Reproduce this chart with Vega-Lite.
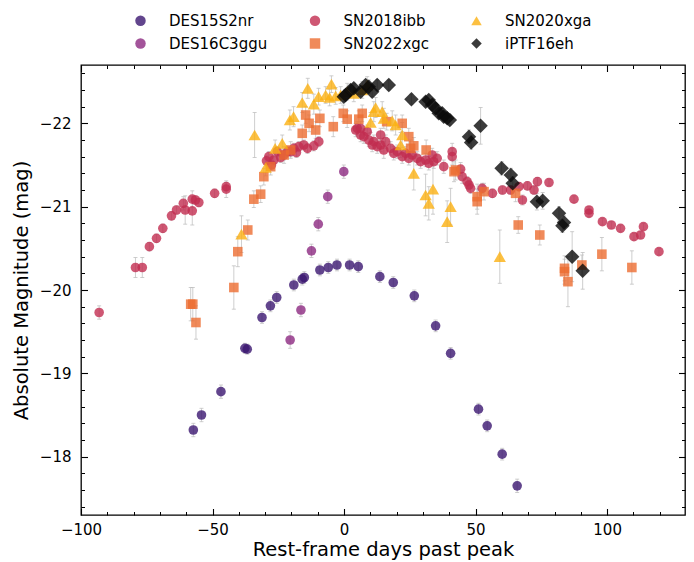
{
  "$schema": "https://vega.github.io/schema/vega-lite/v6.json",
  "width": 604,
  "height": 450,
  "autosize": {"type": "none"},
  "padding": {"left": 81, "top": 65, "right": 9, "bottom": 47},
  "config": {
    "font": "DejaVu Sans",
    "view": {"stroke": "#000000", "strokeWidth": 1.3},
    "axis": {"grid": false, "domain": false, "labelColor": "#000", "titleColor": "#000", "tickColor": "#000", "titleFontWeight": "normal", "labelFontSize": 15, "titleFontSize": 19.5}
  },
  "data": {"values": [
    {"s":"DES15S2nr","d":-57.3,"m":-18.32,"e":0.08},
    {"s":"DES15S2nr","d":-54.2,"m":-18.50,"e":0.08},
    {"s":"DES15S2nr","d":-46.8,"m":-18.78,"e":0.08},
    {"s":"DES15S2nr","d":-37.7,"m":-19.30,"e":0.06},
    {"s":"DES15S2nr","d":-36.8,"m":-19.29,"e":0.06},
    {"s":"DES15S2nr","d":-31.2,"m":-19.67,"e":0.07},
    {"s":"DES15S2nr","d":-28.0,"m":-19.81,"e":0.07},
    {"s":"DES15S2nr","d":-25.6,"m":-19.91,"e":0.07},
    {"s":"DES15S2nr","d":-19.1,"m":-20.06,"e":0.07},
    {"s":"DES15S2nr","d":-15.9,"m":-20.13,"e":0.07},
    {"s":"DES15S2nr","d":-15.1,"m":-20.15,"e":0.07},
    {"s":"DES15S2nr","d":-9.2,"m":-20.24,"e":0.07},
    {"s":"DES15S2nr","d":-6.0,"m":-20.27,"e":0.07},
    {"s":"DES15S2nr","d":-2.7,"m":-20.30,"e":0.07},
    {"s":"DES15S2nr","d":2.1,"m":-20.30,"e":0.07},
    {"s":"DES15S2nr","d":5.4,"m":-20.28,"e":0.07},
    {"s":"DES15S2nr","d":13.6,"m":-20.16,"e":0.07},
    {"s":"DES15S2nr","d":18.7,"m":-20.09,"e":0.07},
    {"s":"DES15S2nr","d":26.7,"m":-19.93,"e":0.07},
    {"s":"DES15S2nr","d":34.8,"m":-19.57,"e":0.07},
    {"s":"DES15S2nr","d":40.5,"m":-19.24,"e":0.07},
    {"s":"DES15S2nr","d":51.1,"m":-18.57,"e":0.07},
    {"s":"DES15S2nr","d":54.4,"m":-18.37,"e":0.07},
    {"s":"DES15S2nr","d":60.1,"m":-18.03,"e":0.07},
    {"s":"DES15S2nr","d":65.8,"m":-17.65,"e":0.08},
    {"s":"DES16C3ggu","d":-20.5,"m":-19.40,"e":0.1},
    {"s":"DES16C3ggu","d":-16.4,"m":-19.76,"e":0.08},
    {"s":"DES16C3ggu","d":-12.4,"m":-20.47,"e":0.08},
    {"s":"DES16C3ggu","d":-9.8,"m":-20.79,"e":0.08},
    {"s":"DES16C3ggu","d":-6.2,"m":-21.12,"e":0.08},
    {"s":"DES16C3ggu","d":-0.1,"m":-21.42,"e":0.08},
    {"s":"SN2018ibb","d":-93.1,"m":-19.73,"e":0.08},
    {"s":"SN2018ibb","d":-79.3,"m":-20.27,"e":0.12},
    {"s":"SN2018ibb","d":-76.7,"m":-20.27,"e":0.12},
    {"s":"SN2018ibb","d":-74.0,"m":-20.52,"e":0.05},
    {"s":"SN2018ibb","d":-71.3,"m":-20.62,"e":0.05},
    {"s":"SN2018ibb","d":-68.9,"m":-20.74,"e":0.05},
    {"s":"SN2018ibb","d":-65.6,"m":-20.89,"e":0.05},
    {"s":"SN2018ibb","d":-63.7,"m":-20.96,"e":0.05},
    {"s":"SN2018ibb","d":-61.1,"m":-21.04,"e":0.08},
    {"s":"SN2018ibb","d":-60.4,"m":-20.96,"e":0.17},
    {"s":"SN2018ibb","d":-57.7,"m":-20.95,"e":0.17},
    {"s":"SN2018ibb","d":-57.7,"m":-21.09,"e":0.1},
    {"s":"SN2018ibb","d":-56.5,"m":-21.08,"e":0.05},
    {"s":"SN2018ibb","d":-55.2,"m":-21.05,"e":0.05},
    {"s":"SN2018ibb","d":-49.2,"m":-21.16,"e":0.05},
    {"s":"SN2018ibb","d":-44.8,"m":-21.21,"e":0.1},
    {"s":"SN2018ibb","d":-44.8,"m":-21.24,"e":0.05},
    {"s":"SN2018ibb","d":-29.5,"m":-21.55,"e":0.06},
    {"s":"SN2018ibb","d":-28.6,"m":-21.60,"e":0.06},
    {"s":"SN2018ibb","d":-27.6,"m":-21.50,"e":0.06},
    {"s":"SN2018ibb","d":-26.7,"m":-21.56,"e":0.06},
    {"s":"SN2018ibb","d":-25.4,"m":-21.66,"e":0.06},
    {"s":"SN2018ibb","d":-24.1,"m":-21.59,"e":0.06},
    {"s":"SN2018ibb","d":-22.9,"m":-21.62,"e":0.06},
    {"s":"SN2018ibb","d":-21.5,"m":-21.66,"e":0.06},
    {"s":"SN2018ibb","d":-20.3,"m":-21.66,"e":0.06},
    {"s":"SN2018ibb","d":-19.1,"m":-21.70,"e":0.06},
    {"s":"SN2018ibb","d":-18.1,"m":-21.65,"e":0.06},
    {"s":"SN2018ibb","d":-17.2,"m":-21.72,"e":0.06},
    {"s":"SN2018ibb","d":-15.3,"m":-21.74,"e":0.06},
    {"s":"SN2018ibb","d":-13.9,"m":-21.70,"e":0.06},
    {"s":"SN2018ibb","d":-11.5,"m":-21.73,"e":0.06},
    {"s":"SN2018ibb","d":-9.6,"m":-21.78,"e":0.06},
    {"s":"SN2018ibb","d":4.4,"m":-21.92,"e":0.08},
    {"s":"SN2018ibb","d":5.0,"m":-21.94,"e":0.08},
    {"s":"SN2018ibb","d":6.3,"m":-21.94,"e":0.08},
    {"s":"SN2018ibb","d":6.3,"m":-21.86,"e":0.08},
    {"s":"SN2018ibb","d":7.5,"m":-21.84,"e":0.08},
    {"s":"SN2018ibb","d":8.8,"m":-21.90,"e":0.08},
    {"s":"SN2018ibb","d":9.4,"m":-21.80,"e":0.08},
    {"s":"SN2018ibb","d":10.7,"m":-21.74,"e":0.08},
    {"s":"SN2018ibb","d":11.3,"m":-21.78,"e":0.08},
    {"s":"SN2018ibb","d":12.6,"m":-21.72,"e":0.08},
    {"s":"SN2018ibb","d":13.9,"m":-21.86,"e":0.08},
    {"s":"SN2018ibb","d":13.9,"m":-21.74,"e":0.08},
    {"s":"SN2018ibb","d":15.1,"m":-21.68,"e":0.1},
    {"s":"SN2018ibb","d":15.8,"m":-21.78,"e":0.08},
    {"s":"SN2018ibb","d":17.7,"m":-21.70,"e":0.08},
    {"s":"SN2018ibb","d":18.9,"m":-21.64,"e":0.08},
    {"s":"SN2018ibb","d":20.2,"m":-21.66,"e":0.08},
    {"s":"SN2018ibb","d":22.1,"m":-21.60,"e":0.08},
    {"s":"SN2018ibb","d":23.4,"m":-21.64,"e":0.08},
    {"s":"SN2018ibb","d":24.6,"m":-21.58,"e":0.08},
    {"s":"SN2018ibb","d":25.9,"m":-21.62,"e":0.08},
    {"s":"SN2018ibb","d":27.8,"m":-21.58,"e":0.08},
    {"s":"SN2018ibb","d":29.1,"m":-21.54,"e":0.08},
    {"s":"SN2018ibb","d":31.0,"m":-21.56,"e":0.08},
    {"s":"SN2018ibb","d":32.2,"m":-21.52,"e":0.08},
    {"s":"SN2018ibb","d":33.5,"m":-21.62,"e":0.08},
    {"s":"SN2018ibb","d":34.1,"m":-21.54,"e":0.08},
    {"s":"SN2018ibb","d":35.4,"m":-21.58,"e":0.08},
    {"s":"SN2018ibb","d":37.9,"m":-21.48,"e":0.08},
    {"s":"SN2018ibb","d":41.1,"m":-21.66,"e":0.1},
    {"s":"SN2018ibb","d":41.1,"m":-21.60,"e":0.1},
    {"s":"SN2018ibb","d":44.3,"m":-21.45,"e":0.08},
    {"s":"SN2018ibb","d":44.9,"m":-21.36,"e":0.08},
    {"s":"SN2018ibb","d":46.8,"m":-21.30,"e":0.06},
    {"s":"SN2018ibb","d":47.5,"m":-21.26,"e":0.06},
    {"s":"SN2018ibb","d":48.1,"m":-21.22,"e":0.06},
    {"s":"SN2018ibb","d":52.5,"m":-21.22,"e":0.06},
    {"s":"SN2018ibb","d":56.4,"m":-21.16,"e":0.05},
    {"s":"SN2018ibb","d":60.2,"m":-21.20,"e":0.05},
    {"s":"SN2018ibb","d":63.3,"m":-21.20,"e":0.05},
    {"s":"SN2018ibb","d":66.5,"m":-21.24,"e":0.05},
    {"s":"SN2018ibb","d":67.8,"m":-21.08,"e":0.06},
    {"s":"SN2018ibb","d":69.7,"m":-21.25,"e":0.05},
    {"s":"SN2018ibb","d":72.2,"m":-21.20,"e":0.05},
    {"s":"SN2018ibb","d":73.5,"m":-21.30,"e":0.05},
    {"s":"SN2018ibb","d":77.9,"m":-21.29,"e":0.04},
    {"s":"SN2018ibb","d":87.4,"m":-21.09,"e":0.04},
    {"s":"SN2018ibb","d":93.1,"m":-20.96,"e":0.04},
    {"s":"SN2018ibb","d":93.1,"m":-20.92,"e":0.04},
    {"s":"SN2018ibb","d":98.2,"m":-20.82,"e":0.04},
    {"s":"SN2018ibb","d":101.6,"m":-20.78,"e":0.04},
    {"s":"SN2018ibb","d":105.1,"m":-20.74,"e":0.04},
    {"s":"SN2018ibb","d":110.2,"m":-20.64,"e":0.04},
    {"s":"SN2018ibb","d":112.7,"m":-20.66,"e":0.04},
    {"s":"SN2018ibb","d":113.8,"m":-20.76,"e":0.04},
    {"s":"SN2018ibb","d":119.7,"m":-20.46,"e":0.04},
    {"s":"SN2022xgc","d":-58.3,"m":-19.83,"e":0.2},
    {"s":"SN2022xgc","d":-57.5,"m":-19.83,"e":0.2},
    {"s":"SN2022xgc","d":-56.3,"m":-19.61,"e":0.2},
    {"s":"SN2022xgc","d":-41.9,"m":-20.03,"e":0.26},
    {"s":"SN2022xgc","d":-40.4,"m":-20.46,"e":0.18},
    {"s":"SN2022xgc","d":-36.6,"m":-20.72,"e":0.12},
    {"s":"SN2022xgc","d":-34.3,"m":-21.09,"e":0.1},
    {"s":"SN2022xgc","d":-31.7,"m":-21.15,"e":0.1},
    {"s":"SN2022xgc","d":-30.5,"m":-21.36,"e":0.1},
    {"s":"SN2022xgc","d":-27.9,"m":-21.48,"e":0.1},
    {"s":"SN2022xgc","d":-22.8,"m":-21.62,"e":0.1},
    {"s":"SN2022xgc","d":-20.3,"m":-21.68,"e":0.1},
    {"s":"SN2022xgc","d":-15.9,"m":-21.88,"e":0.1},
    {"s":"SN2022xgc","d":-14.6,"m":-22.10,"e":0.1},
    {"s":"SN2022xgc","d":-13.3,"m":-22.00,"e":0.1},
    {"s":"SN2022xgc","d":-10.8,"m":-21.92,"e":0.1},
    {"s":"SN2022xgc","d":-9.2,"m":-22.06,"e":0.1},
    {"s":"SN2022xgc","d":-4.1,"m":-21.96,"e":0.12},
    {"s":"SN2022xgc","d":-0.3,"m":-22.12,"e":0.1},
    {"s":"SN2022xgc","d":1.2,"m":-22.05,"e":0.1},
    {"s":"SN2022xgc","d":5.6,"m":-22.05,"e":0.1},
    {"s":"SN2022xgc","d":6.9,"m":-22.12,"e":0.1},
    {"s":"SN2022xgc","d":16.2,"m":-22.02,"e":0.1},
    {"s":"SN2022xgc","d":22.1,"m":-22.00,"e":0.1},
    {"s":"SN2022xgc","d":24.6,"m":-21.84,"e":0.1},
    {"s":"SN2022xgc","d":25.3,"m":-21.70,"e":0.1},
    {"s":"SN2022xgc","d":26.5,"m":-21.73,"e":0.1},
    {"s":"SN2022xgc","d":31.2,"m":-21.68,"e":0.12},
    {"s":"SN2022xgc","d":41.8,"m":-21.42,"e":0.12},
    {"s":"SN2022xgc","d":42.4,"m":-21.44,"e":0.12},
    {"s":"SN2022xgc","d":50.6,"m":-21.12,"e":0.15},
    {"s":"SN2022xgc","d":50.6,"m":-21.06,"e":0.15},
    {"s":"SN2022xgc","d":53.2,"m":-21.18,"e":0.1},
    {"s":"SN2022xgc","d":65.2,"m":-21.16,"e":0.1},
    {"s":"SN2022xgc","d":66.2,"m":-20.78,"e":0.1},
    {"s":"SN2022xgc","d":74.4,"m":-20.66,"e":0.12},
    {"s":"SN2022xgc","d":83.8,"m":-20.26,"e":0.15},
    {"s":"SN2022xgc","d":83.8,"m":-20.22,"e":0.15},
    {"s":"SN2022xgc","d":85.1,"m":-20.10,"e":0.3},
    {"s":"SN2022xgc","d":90.4,"m":-20.30,"e":0.12},
    {"s":"SN2022xgc","d":98.0,"m":-20.43,"e":0.2},
    {"s":"SN2022xgc","d":109.4,"m":-20.27,"e":0.2},
    {"s":"SN2020xga","d":-39.0,"m":-20.67,"e":0.22},
    {"s":"SN2020xga","d":-34.0,"m":-21.86,"e":0.27},
    {"s":"SN2020xga","d":-29.8,"m":-21.47,"e":0.1},
    {"s":"SN2020xga","d":-26.2,"m":-21.70,"e":0.1},
    {"s":"SN2020xga","d":-23.5,"m":-21.76,"e":0.1},
    {"s":"SN2020xga","d":-20.6,"m":-22.04,"e":0.12},
    {"s":"SN2020xga","d":-19.2,"m":-22.08,"e":0.12},
    {"s":"SN2020xga","d":-15.9,"m":-22.25,"e":0.12},
    {"s":"SN2020xga","d":-13.8,"m":-22.42,"e":0.12},
    {"s":"SN2020xga","d":-11.5,"m":-22.23,"e":0.12},
    {"s":"SN2020xga","d":-9.7,"m":-22.32,"e":0.1},
    {"s":"SN2020xga","d":-7.0,"m":-22.34,"e":0.1},
    {"s":"SN2020xga","d":-5.5,"m":-22.31,"e":0.1},
    {"s":"SN2020xga","d":-4.8,"m":-22.47,"e":0.1},
    {"s":"SN2020xga","d":-3.2,"m":-22.33,"e":0.1},
    {"s":"SN2020xga","d":-1.3,"m":-22.34,"e":0.1},
    {"s":"SN2020xga","d":1.2,"m":-22.38,"e":0.1},
    {"s":"SN2020xga","d":3.7,"m":-22.36,"e":0.1},
    {"s":"SN2020xga","d":6.9,"m":-22.40,"e":0.1},
    {"s":"SN2020xga","d":8.8,"m":-22.46,"e":0.1},
    {"s":"SN2020xga","d":10.1,"m":-22.01,"e":0.12},
    {"s":"SN2020xga","d":11.3,"m":-22.14,"e":0.12},
    {"s":"SN2020xga","d":12.0,"m":-22.19,"e":0.12},
    {"s":"SN2020xga","d":14.5,"m":-22.14,"e":0.12},
    {"s":"SN2020xga","d":15.1,"m":-22.06,"e":0.12},
    {"s":"SN2020xga","d":18.3,"m":-22.03,"e":0.12},
    {"s":"SN2020xga","d":19.6,"m":-21.98,"e":0.12},
    {"s":"SN2020xga","d":21.5,"m":-21.74,"e":0.15},
    {"s":"SN2020xga","d":22.1,"m":-21.86,"e":0.15},
    {"s":"SN2020xga","d":26.5,"m":-21.40,"e":0.2},
    {"s":"SN2020xga","d":31.0,"m":-21.14,"e":0.25},
    {"s":"SN2020xga","d":32.2,"m":-21.04,"e":0.2},
    {"s":"SN2020xga","d":33.8,"m":-21.21,"e":0.3},
    {"s":"SN2020xga","d":39.2,"m":-20.82,"e":0.25},
    {"s":"SN2020xga","d":40.5,"m":-21.00,"e":0.22},
    {"s":"SN2020xga","d":59.2,"m":-20.40,"e":0.32},
    {"s":"iPTF16eh","d":-0.1,"m":-22.32,"e":0.06},
    {"s":"iPTF16eh","d":0.6,"m":-22.34,"e":0.06},
    {"s":"iPTF16eh","d":2.5,"m":-22.40,"e":0.06},
    {"s":"iPTF16eh","d":3.7,"m":-22.42,"e":0.06},
    {"s":"iPTF16eh","d":6.3,"m":-22.38,"e":0.06},
    {"s":"iPTF16eh","d":8.2,"m":-22.46,"e":0.06},
    {"s":"iPTF16eh","d":9.4,"m":-22.44,"e":0.08},
    {"s":"iPTF16eh","d":10.7,"m":-22.38,"e":0.06},
    {"s":"iPTF16eh","d":12.6,"m":-22.46,"e":0.06},
    {"s":"iPTF16eh","d":17.0,"m":-22.46,"e":0.06},
    {"s":"iPTF16eh","d":25.6,"m":-22.29,"e":0.06},
    {"s":"iPTF16eh","d":31.0,"m":-22.26,"e":0.06},
    {"s":"iPTF16eh","d":32.2,"m":-22.28,"e":0.06},
    {"s":"iPTF16eh","d":33.5,"m":-22.22,"e":0.06},
    {"s":"iPTF16eh","d":34.8,"m":-22.18,"e":0.06},
    {"s":"iPTF16eh","d":36.0,"m":-22.12,"e":0.06},
    {"s":"iPTF16eh","d":37.3,"m":-22.12,"e":0.06},
    {"s":"iPTF16eh","d":37.9,"m":-22.08,"e":0.06},
    {"s":"iPTF16eh","d":39.2,"m":-22.06,"e":0.06},
    {"s":"iPTF16eh","d":40.2,"m":-22.04,"e":0.06},
    {"s":"iPTF16eh","d":47.5,"m":-21.84,"e":0.08},
    {"s":"iPTF16eh","d":48.3,"m":-21.77,"e":0.08},
    {"s":"iPTF16eh","d":51.9,"m":-21.97,"e":0.22},
    {"s":"iPTF16eh","d":59.9,"m":-21.46,"e":0.08},
    {"s":"iPTF16eh","d":63.4,"m":-21.38,"e":0.08},
    {"s":"iPTF16eh","d":64.1,"m":-21.28,"e":0.08},
    {"s":"iPTF16eh","d":73.3,"m":-21.06,"e":0.1},
    {"s":"iPTF16eh","d":75.5,"m":-21.07,"e":0.1},
    {"s":"iPTF16eh","d":81.7,"m":-20.92,"e":0.08},
    {"s":"iPTF16eh","d":83.6,"m":-20.81,"e":0.08},
    {"s":"iPTF16eh","d":83.0,"m":-20.77,"e":0.08},
    {"s":"iPTF16eh","d":86.7,"m":-20.40,"e":0.3},
    {"s":"iPTF16eh","d":90.7,"m":-20.23,"e":0.22}
  ]},
  "resolve": {"axis": {"x": "independent", "y": "independent"}},
  "layer": [
    {
      "mark": {"type": "errorbar", "ticks": {"size": 4}, "color": "#bdbdbd", "opacity": 0.75, "thickness": 1},
      "encoding": {
        "x": {"field": "d", "type": "quantitative", "scale": {"domain": [-100, 129.6], "nice": false, "zero": false}, "axis": null},
        "y": {"field": "m", "type": "quantitative", "scale": {"domain": [-22.7, -17.3], "reverse": true, "nice": false, "zero": false}, "axis": null},
        "yError": {"field": "e"}
      }
    },
    {
      "mark": {"type": "point", "filled": true, "opacity": 0.8, "strokeWidth": 0},
      "encoding": {
        "x": {"field": "d", "type": "quantitative", "scale": {"domain": [-100, 129.6], "nice": false, "zero": false},
              "axis": {"orient": "bottom", "values": [-100, -50, 0, 50, 100], "ticks": false, "labelPadding": 7, "labelFlush": false, "title": "Rest-frame days past peak", "titlePadding": 3}},
        "y": {"field": "m", "type": "quantitative", "scale": {"domain": [-22.7, -17.3], "reverse": true, "nice": false, "zero": false},
              "axis": {"orient": "left", "values": [-22, -21, -20, -19, -18], "ticks": false, "labelPadding": 10, "labelFlush": false, "title": "Absolute Magnitude (mag)", "titlePadding": 8}},
        "color": {"field": "s", "type": "nominal",
                  "scale": {"domain": ["DES15S2nr", "SN2018ibb", "SN2020xga", "DES16C3ggu", "SN2022xgc", "iPTF16eh"],
                            "range": ["#3b1670", "#c22d50", "#fbb012", "#8c2981", "#ec6d31", "#0a0a0a"]},
                  "legend": {"title": null, "orient": "none", "legendX": 52, "legendY": -52, "columns": 3, "direction": "horizontal", "labelFontSize": 15, "labelOffset": 21, "columnPadding": 39.5, "rowPadding": 7, "padding": 0, "symbolOpacity": 0.8, "symbolStrokeWidth": 0, "symbolSize": 110}},
        "shape": {"field": "s", "type": "nominal",
                  "scale": {"domain": ["DES15S2nr", "SN2018ibb", "SN2020xga", "DES16C3ggu", "SN2022xgc", "iPTF16eh"],
                            "range": ["circle", "circle", "triangle-up", "circle", "square", "diamond"]},
                  "legend": {"title": null, "orient": "none", "legendX": 52, "legendY": -52, "columns": 3, "direction": "horizontal", "labelFontSize": 15, "labelOffset": 21, "columnPadding": 39.5, "rowPadding": 7, "padding": 0, "symbolOpacity": 0.8, "symbolStrokeWidth": 0, "symbolSize": 110}},
        "size": {"condition": [{"test": "datum.s === 'iPTF16eh'", "value": 210}, {"test": "datum.s === 'SN2020xga'", "value": 150}], "value": 92}
      }
    },
    {
      "mark": {"type": "point", "opacity": 0},
      "encoding": {
        "x": {"field": "d", "type": "quantitative", "scale": {"domain": [-100, 129.6], "nice": false, "zero": false},
              "axis": {"orient": "bottom", "values": [-100, -50, 0, 50, 100], "labels": false, "title": null, "tickSize": -6.5, "tickWidth": 1.1}},
        "y": {"field": "m", "type": "quantitative", "scale": {"domain": [-22.7, -17.3], "reverse": true, "nice": false, "zero": false},
              "axis": {"orient": "left", "values": [-22, -21, -20, -19, -18], "labels": false, "title": null, "tickSize": -6.5, "tickWidth": 1.1}}
      }
    },
    {
      "mark": {"type": "point", "opacity": 0},
      "encoding": {
        "x": {"field": "d", "type": "quantitative", "scale": {"domain": [-100, 129.6], "nice": false, "zero": false},
              "axis": {"orient": "bottom", "values": [-90, -80, -70, -60, -40, -30, -20, -10, 10, 20, 30, 40, 60, 70, 80, 90, 110, 120], "labels": false, "title": null, "tickSize": -3.5, "tickWidth": 1}},
        "y": {"field": "m", "type": "quantitative", "scale": {"domain": [-22.7, -17.3], "reverse": true, "nice": false, "zero": false},
              "axis": {"orient": "left", "values": [-22.6, -22.4, -22.2, -21.8, -21.6, -21.4, -21.2, -20.8, -20.6, -20.4, -20.2, -19.8, -19.6, -19.4, -19.2, -18.8, -18.6, -18.4, -18.2, -17.8, -17.6, -17.4], "labels": false, "title": null, "tickSize": -3.5, "tickWidth": 1}}
      }
    },
    {
      "mark": {"type": "point", "opacity": 0},
      "encoding": {
        "x": {"field": "d", "type": "quantitative", "scale": {"domain": [-100, 129.6], "nice": false, "zero": false},
              "axis": {"orient": "top", "values": [-100, -50, 0, 50, 100], "labels": false, "title": null, "tickSize": -6.5, "tickWidth": 1.1}},
        "y": {"field": "m", "type": "quantitative", "scale": {"domain": [-22.7, -17.3], "reverse": true, "nice": false, "zero": false},
              "axis": {"orient": "right", "values": [-22, -21, -20, -19, -18], "labels": false, "title": null, "tickSize": -6.5, "tickWidth": 1.1}}
      }
    },
    {
      "mark": {"type": "point", "opacity": 0},
      "encoding": {
        "x": {"field": "d", "type": "quantitative", "scale": {"domain": [-100, 129.6], "nice": false, "zero": false},
              "axis": {"orient": "top", "values": [-90, -80, -70, -60, -40, -30, -20, -10, 10, 20, 30, 40, 60, 70, 80, 90, 110, 120], "labels": false, "title": null, "tickSize": -3.5, "tickWidth": 1}},
        "y": {"field": "m", "type": "quantitative", "scale": {"domain": [-22.7, -17.3], "reverse": true, "nice": false, "zero": false},
              "axis": {"orient": "right", "values": [-22.6, -22.4, -22.2, -21.8, -21.6, -21.4, -21.2, -20.8, -20.6, -20.4, -20.2, -19.8, -19.6, -19.4, -19.2, -18.8, -18.6, -18.4, -18.2, -17.8, -17.6, -17.4], "labels": false, "title": null, "tickSize": -3.5, "tickWidth": 1}}
      }
    }
  ]
}
